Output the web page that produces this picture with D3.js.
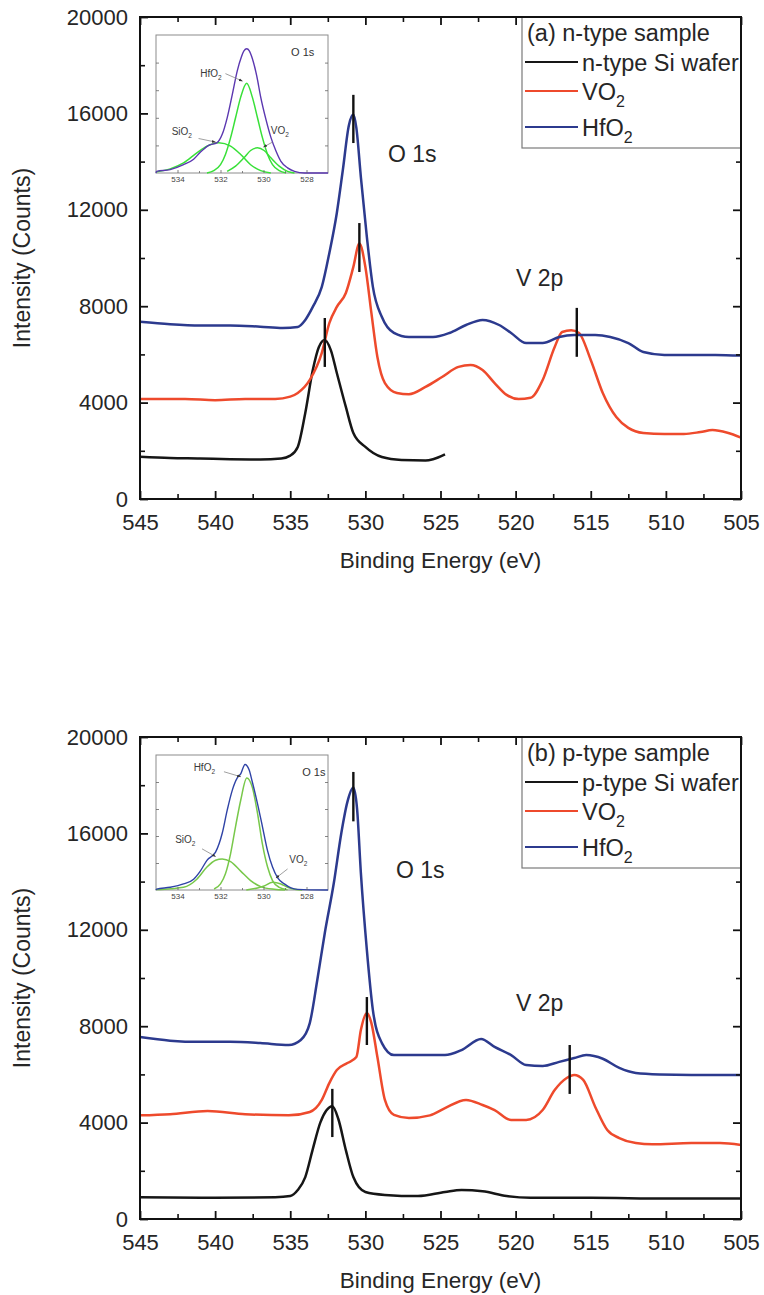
<!DOCTYPE html>
<html>
<head>
<meta charset="utf-8">
<script src="https://cdnjs.cloudflare.com/ajax/libs/d3/7.8.5/d3.min.js"></script>
<style>
  html, body { margin: 0; padding: 0; background: #ffffff; }
  svg { display: block; font-family: "Liberation Sans", Arial, sans-serif; }
</style>
</head>
<body>
<svg id="fig" width="764" height="1295"></svg>
<script>
// ---------- axis ticks ----------
const energyTicks = [545, 540, 535, 530, 525, 520, 515, 510, 505];
const energyMinor = [542.5, 537.5, 532.5, 527.5, 522.5, 517.5, 512.5, 507.5];
const countTicks = [0, 4000, 8000, 12000, 16000, 20000];
const countMinor = [2000, 6000, 10000, 14000, 18000];
const insetTicks = [534, 532, 530, 528];
const insetMinor = [533, 531, 529];
const insetLevelTicks = [0.2, 0.4, 0.6, 0.8];

// ---------- legend / labels ----------
const panelTitles = ["(a) n-type sample", "(b) p-type sample"];
const waferNames = ["n-type Si wafer", "p-type Si wafer"];
const filmNames = ["VO_2", "HfO_2"];
const peakLabels = ["O 1s", "V 2p"];
const axisTitles = ["Binding Energy (eV)", "Intensity (Counts)"];

// ---------- (a) n-type sample: [binding energy eV, counts] ----------
const nWafer = [
  [545, 1750], [543, 1700], [541, 1680], [539, 1650], [537, 1640], [535.6, 1680],
  [535, 1800], [534.5, 2160], [534.0, 3570], [533.5, 5350], [533.1, 6300],
  [532.7, 6600], [532.3, 6180], [531.9, 5230], [531.3, 3820], [530.8, 2740],
  [530.0, 2160], [528.9, 1740], [527.6, 1620], [526.0, 1600], [525.5, 1650], [524.7, 1850]
];
const nVO2 = [
  [545, 4150], [542, 4150], [540, 4100], [538, 4150], [536, 4150], [535, 4250],
  [534.5, 4400], [533.7, 4940], [532.9, 6060], [532.4, 7300], [531.9, 7970],
  [531.3, 8550], [530.8, 9630], [530.4, 10600], [530.0, 9630], [529.6, 7720],
  [529.2, 5890], [528.7, 4810], [527.9, 4400], [527.1, 4350], [526.0, 4650],
  [524.9, 5060], [523.8, 5480], [523.0, 5560], [522.2, 5350], [521.4, 4810],
  [520.6, 4320], [519.8, 4150], [519.0, 4200], [518.2, 4940], [517.4, 6310],
  [516.9, 6930], [516.3, 7000], [515.8, 6900], [515.0, 5770], [514.2, 4400],
  [513.3, 3400], [512.5, 2950], [511.5, 2740], [510.1, 2700], [508.8, 2700],
  [507.7, 2780], [506.9, 2860], [505.9, 2750], [505, 2550]
];
const nHfO2 = [
  [545, 7350], [543, 7250], [541, 7200], [539, 7200], [537, 7150], [535.5, 7100],
  [534.5, 7140], [534.0, 7430], [533.5, 7970], [532.9, 8800], [532.4, 10200],
  [531.9, 11870], [531.5, 13650], [531.1, 15500], [530.8, 15950], [530.6, 15400],
  [530.3, 13360], [529.9, 10870], [529.5, 8800], [528.9, 7550], [528.1, 6890],
  [527.1, 6720], [525.5, 6720], [524.4, 6890], [523.3, 7220], [522.2, 7430],
  [521.1, 7220], [520.3, 6890], [519.3, 6470], [518.2, 6470], [517.1, 6720],
  [516.1, 6800], [514.7, 6800], [513.7, 6720], [512.5, 6470], [511.5, 6100],
  [510.1, 5980], [508.3, 5980], [506.7, 5980], [505, 5950]
];
// peak position bars: [energy, lower counts, upper counts]
const nPeakMarks = [
  [530.8, 14770, 16770], [530.4, 9420, 11450], [532.7, 5480, 7510], [515.93, 5900, 7930]
];

// ---------- (b) p-type sample ----------
const pWafer = [
  [545, 900], [540, 880], [536, 900], [535, 950], [534.5, 1200], [534.0, 1740],
  [533.5, 2900], [533.0, 4000], [532.6, 4500], [532.2, 4680], [531.8, 4150],
  [531.3, 2860], [530.8, 1740], [530.0, 1120], [528.7, 1000], [526.5, 950],
  [524.7, 1120], [523.6, 1200], [522.2, 1150], [520.6, 950], [519.0, 880],
  [515, 880], [510, 850], [505, 850]
];
const pVO2 = [
  [545, 4300], [543, 4350], [540.5, 4480], [538, 4350], [535.1, 4300], [533.7, 4440],
  [532.9, 4940], [532.4, 5640], [531.9, 6180], [531.2, 6470], [530.6, 6720],
  [530.3, 7840], [529.9, 8550], [529.6, 8130], [529.2, 6720], [528.7, 4940],
  [528.1, 4320], [527.1, 4190], [525.7, 4300], [524.7, 4600], [523.3, 4940],
  [522.2, 4730], [521.4, 4520], [520.3, 4110], [519.3, 4110], [518.2, 4520],
  [517.4, 5350], [516.6, 5850], [516.1, 5980], [515.5, 5770], [514.7, 4650],
  [513.9, 3690], [513.1, 3360], [512.0, 3150], [510.9, 3100], [508.3, 3150],
  [506.4, 3150], [505, 3070]
];
const pHfO2 = [
  [545, 7550], [543, 7400], [541, 7350], [539, 7350], [537, 7300], [535.1, 7220],
  [534.3, 7430], [533.7, 8130], [533.2, 9920], [532.7, 11870], [532.1, 13940],
  [531.6, 16020], [531.2, 17300], [530.8, 17900], [530.55, 17000], [530.3, 14360],
  [529.9, 11160], [529.5, 8670], [528.9, 7300], [528.1, 6800], [526.5, 6800],
  [524.7, 6800], [523.6, 7010], [522.3, 7470], [521.4, 7140], [520.3, 6800],
  [519.3, 6390], [518.2, 6350], [517.1, 6520], [516.1, 6680], [515.3, 6800],
  [514.2, 6650], [513.1, 6270], [512.0, 6060], [510.4, 6000], [508.3, 5980],
  [506.7, 5980], [505, 5980]
];
const pPeakMarks = [
  [530.8, 16500, 18550], [529.9, 7220, 9210], [532.2, 3400, 5400], [516.4, 5190, 7220]
];

// ---------- O 1s fits (insets): [energy eV, relative intensity] ----------
const nFitEnvelope = [
  [535, 0.0], [534.97, 0.012], [534.34, 0.024], [533.72, 0.06], [533.25, 0.10],
  [532.94, 0.15], [532.55, 0.20], [532.16, 0.22], [531.92, 0.28], [531.69, 0.40],
  [531.45, 0.57], [531.22, 0.74], [531.03, 0.84], [530.91, 0.885], [530.78, 0.90],
  [530.66, 0.885], [530.52, 0.83], [530.31, 0.70], [530.13, 0.55], [529.89, 0.39],
  [529.66, 0.26], [529.42, 0.16], [529.19, 0.085], [528.88, 0.037], [528.56, 0.012],
  [528.09, 0.0], [527, 0.0]
];
const nFitHfO2 = [
  [532.63, 0.0], [532.31, 0.017], [532.0, 0.06], [531.77, 0.134], [531.53, 0.256],
  [531.3, 0.40], [531.06, 0.55], [530.78, 0.65], [530.52, 0.55], [530.28, 0.40],
  [530.05, 0.256], [529.81, 0.134], [529.58, 0.06], [529.27, 0.017], [528.95, 0.0]
];
const nFitSiO2 = [
  [535, 0.008], [534.34, 0.03], [533.72, 0.073], [533.1, 0.146], [532.63, 0.195],
  [532.08, 0.22], [531.53, 0.195], [531.06, 0.134], [530.6, 0.06], [530.13, 0.017],
  [529.66, 0.0]
];
const nFitVO2 = [
  [531.69, 0.012], [531.3, 0.05], [530.91, 0.11], [530.6, 0.163], [530.28, 0.183],
  [529.97, 0.163], [529.66, 0.11], [529.27, 0.05], [528.88, 0.012], [528.56, 0.0]
];

const pFitEnvelope = [
  [535, 0.0], [534.97, 0.007], [534.34, 0.02], [533.72, 0.045], [533.25, 0.08],
  [532.94, 0.14], [532.63, 0.22], [532.23, 0.28], [531.92, 0.42], [531.69, 0.59],
  [531.45, 0.74], [531.22, 0.83], [531.06, 0.86], [530.86, 0.93], [530.67, 0.89],
  [530.52, 0.80], [530.28, 0.64], [530.05, 0.47], [529.81, 0.29], [529.58, 0.17],
  [529.34, 0.09], [529.03, 0.045], [528.72, 0.015], [528.41, 0.005], [527, 0.0]
];
const pFitHfO2 = [
  [532.3, 0.007], [532.0, 0.045], [531.77, 0.12], [531.53, 0.27], [531.3, 0.47],
  [531.06, 0.665], [530.78, 0.83], [530.52, 0.76], [530.28, 0.57], [530.05, 0.34],
  [529.81, 0.17], [529.58, 0.07], [529.27, 0.02], [528.88, 0.002]
];
const pFitSiO2 = [
  [535, 0.003], [534.3, 0.01], [533.72, 0.02], [533.1, 0.08], [532.63, 0.17],
  [532.23, 0.22], [531.92, 0.23], [531.53, 0.21], [531.06, 0.14], [530.6, 0.07],
  [530.13, 0.025], [529.5, 0.005], [529.0, 0.0]
];
const pFitVO2 = [
  [530.8, 0.0], [530.28, 0.015], [529.97, 0.03], [529.58, 0.057], [529.19, 0.045],
  [528.88, 0.02], [528.56, 0.005], [528.2, 0.0]
];

// component name labels with pointer arrows: [name, text energy, text level, from energy, from level, to energy, to level]
const nFitNotes = [
  ["HfO_2", 532.94, 0.695, 531.77, 0.72, 530.98, 0.666],
  ["SiO_2", 534.27, 0.273, 533.02, 0.25, 532.23, 0.224],
  ["VO_2", 529.66, 0.28, 529.58, 0.224, 530.0, 0.188]
];
const pFitNotes = [
  ["HfO_2", 533.25, 0.883, 531.84, 0.876, 531.06, 0.839],
  ["SiO_2", 534.11, 0.347, 532.86, 0.305, 532.23, 0.248],
  ["VO_2", 528.8, 0.199, 528.88, 0.156, 529.42, 0.089]
];

// ---------- drawing ----------
const svg = d3.select("#fig");
const TEXT = "#262626";

svg.append("defs").append("marker")
  .attr("id", "tip").attr("viewBox", "0 0 10 10")
  .attr("refX", 9).attr("refY", 5)
  .attr("markerWidth", 5).attr("markerHeight", 5)
  .attr("orient", "auto")
  .append("path").attr("d", "M0,1.5 L10,5 L0,8.5 Z").attr("fill", "#333");

function richText(sel, str, subSize, subDy) {
  const parts = str.split("_");
  sel.append("tspan").text(parts[0]);
  if (parts.length > 1) {
    sel.append("tspan").attr("font-size", subSize).attr("dy", subDy).text(parts[1]);
  }
}

function styleAxis(sel, width) {
  sel.select(".domain").remove();
  sel.selectAll(".tick line").attr("stroke", "#111").attr("stroke-width", width);
  sel.selectAll(".tick text").attr("fill", TEXT).attr("font-size", 22)
    .attr("font-family", "'Liberation Sans', Arial, sans-serif");
}

function drawPanel(cfg) {
  const g = svg.append("g").attr("transform", `translate(0,${cfg.dy})`);
  const L = 140, R = 741, T = 17, B = 499;
  const x = d3.scaleLinear().domain([545, 505]).range([L, R]);
  const y = d3.scaleLinear().domain([0, 20000]).range([B, T]);

  // spectra
  const line = d3.line().x(d => x(d[0])).y(d => y(d[1])).curve(d3.curveMonotoneX);
  const series = [
    { data: cfg.wafer, color: "#161616" },
    { data: cfg.vo2, color: "#ee4a2c" },
    { data: cfg.hfo2, color: "#2c3a8e" }
  ];
  g.selectAll("path.spec").data(series).join("path")
    .attr("class", "spec")
    .attr("d", d => line(d.data))
    .attr("fill", "none")
    .attr("stroke", d => d.color)
    .attr("stroke-width", 2.5)
    .attr("stroke-linejoin", "round");

  // peak position bars
  g.selectAll("line.mark").data(cfg.marks).join("line")
    .attr("class", "mark")
    .attr("x1", d => x(d[0])).attr("x2", d => x(d[0]))
    .attr("y1", d => y(d[1])).attr("y2", d => y(d[2]))
    .attr("stroke", "#111").attr("stroke-width", 2.4);

  // peak labels
  g.append("text").attr("x", cfg.o1s[0]).attr("y", cfg.o1s[1])
    .attr("font-size", 23).attr("fill", TEXT).text(peakLabels[0]);
  g.append("text").attr("x", cfg.v2p[0]).attr("y", cfg.v2p[1])
    .attr("font-size", 23).attr("fill", TEXT).text(peakLabels[1]);

  // axes: ticks point inward on all four sides
  g.append("g").attr("transform", `translate(0,${B})`)
    .call(d3.axisBottom(x).tickValues(energyTicks).tickSize(-8).tickPadding(15).tickFormat(d3.format("d")))
    .call(s => styleAxis(s, 1.8));
  g.append("g").attr("transform", `translate(0,${B})`)
    .call(d3.axisBottom(x).tickValues(energyMinor).tickSize(-5).tickFormat(""))
    .call(s => styleAxis(s, 1.6));
  g.append("g").attr("transform", `translate(0,${T})`)
    .call(d3.axisTop(x).tickValues(energyTicks).tickSize(-8).tickFormat(""))
    .call(s => styleAxis(s, 1.8));
  g.append("g").attr("transform", `translate(0,${T})`)
    .call(d3.axisTop(x).tickValues(energyMinor).tickSize(-5).tickFormat(""))
    .call(s => styleAxis(s, 1.6));
  g.append("g").attr("transform", `translate(${L},0)`)
    .call(d3.axisLeft(y).tickValues(countTicks).tickSize(-8).tickPadding(12).tickFormat(d3.format("d")))
    .call(s => styleAxis(s, 1.8));
  g.append("g").attr("transform", `translate(${L},0)`)
    .call(d3.axisLeft(y).tickValues(countMinor).tickSize(-5).tickFormat(""))
    .call(s => styleAxis(s, 1.6));
  g.append("g").attr("transform", `translate(${R},0)`)
    .call(d3.axisRight(y).tickValues(countTicks).tickSize(-8).tickFormat(""))
    .call(s => styleAxis(s, 1.8));
  g.append("g").attr("transform", `translate(${R},0)`)
    .call(d3.axisRight(y).tickValues(countMinor).tickSize(-5).tickFormat(""))
    .call(s => styleAxis(s, 1.6));

  // axis titles
  g.append("text").attr("x", (L + R) / 2).attr("y", 568)
    .attr("text-anchor", "middle").attr("font-size", 22.5).attr("fill", TEXT)
    .text(axisTitles[0]);
  g.append("text").attr("transform", `translate(30,${(T + B) / 2}) rotate(-90)`)
    .attr("text-anchor", "middle").attr("font-size", 23).attr("fill", TEXT)
    .text(axisTitles[1]);

  // legend
  const lg = g.append("g");
  lg.append("rect").attr("x", 522).attr("y", T).attr("width", R - 522).attr("height", 131)
    .attr("fill", "#fff").attr("stroke", "#7a7a7a").attr("stroke-width", 1.2);
  lg.append("text").attr("x", 527).attr("y", 41).attr("font-size", 23.5).attr("fill", TEXT)
    .text(cfg.title);
  const rows = [
    { name: cfg.waferName, color: "#161616", ly: 62 },
    { name: filmNames[0], color: "#ee4a2c", ly: 91 },
    { name: filmNames[1], color: "#2c3a8e", ly: 127 }
  ];
  rows.forEach(r => {
    lg.append("line").attr("x1", 525).attr("x2", 578).attr("y1", r.ly).attr("y2", r.ly)
      .attr("stroke", r.color).attr("stroke-width", 2.2);
    const t = lg.append("text").attr("x", 582).attr("y", r.ly + 8.5)
      .attr("font-size", 23.5).attr("fill", TEXT);
    richText(t, r.name, 16, 7.5);
  });

  // frame
  g.append("rect").attr("x", L).attr("y", T).attr("width", R - L).attr("height", B - T)
    .attr("fill", "none").attr("stroke", "#111").attr("stroke-width", 2);

  drawInset(g, cfg.inset);
}

function drawInset(g, ic) {
  const L = 156, R = 328, T = 35, B = ic.bottom;
  const x = d3.scaleLinear().domain([535, 527]).range([L, R]);
  const y = d3.scaleLinear().domain([0, 1]).range([B, T]);
  const ig = g.append("g");
  ig.append("rect").attr("x", L).attr("y", T).attr("width", R - L).attr("height", B - T)
    .attr("fill", "#fff").attr("stroke", "#8c8c8c").attr("stroke-width", 1);

  const line = d3.line().x(d => x(d[0])).y(d => y(d[1])).curve(d3.curveMonotoneX);
  const curves = [
    { data: ic.siO2, color: ic.green, w: 1.5 },
    { data: ic.vO2, color: ic.green, w: 1.5 },
    { data: ic.hfO2, color: ic.green, w: 1.5 },
    { data: ic.envelope, color: ic.envColor, w: 1.4 }
  ];
  ig.selectAll("path.fit").data(curves).join("path")
    .attr("class", "fit")
    .attr("d", d => line(d.data))
    .attr("fill", "none").attr("stroke", d => d.color).attr("stroke-width", d => d.w);

  // small inward ticks
  const tickStyle = s => {
    s.select(".domain").remove();
    s.selectAll(".tick line").attr("stroke", "#666").attr("stroke-width", 0.8);
    s.selectAll(".tick text").attr("fill", "#444").attr("font-size", 8)
      .attr("font-family", "'Liberation Sans', Arial, sans-serif");
  };
  ig.append("g").attr("transform", `translate(0,${B})`)
    .call(d3.axisBottom(x).tickValues(insetTicks).tickSize(-3).tickPadding(3).tickFormat(d3.format("d")))
    .call(tickStyle);
  ig.append("g").attr("transform", `translate(0,${B})`)
    .call(d3.axisBottom(x).tickValues(insetMinor).tickSize(-2).tickFormat(""))
    .call(tickStyle);
  ig.append("g").attr("transform", `translate(${L},0)`)
    .call(d3.axisLeft(y).tickValues(insetLevelTicks).tickSize(-3).tickFormat(""))
    .call(tickStyle);
  ig.append("g").attr("transform", `translate(${R},0)`)
    .call(d3.axisRight(y).tickValues(insetLevelTicks).tickSize(-3).tickFormat(""))
    .call(tickStyle);

  ig.append("text").attr("x", x(ic.titleAt[0])).attr("y", y(ic.titleAt[1]))
    .attr("font-size", 11).attr("fill", "#333").text(peakLabels[0]);

  ic.notes.forEach(n => {
    const t = ig.append("text").attr("x", x(n[1])).attr("y", y(n[2]))
      .attr("font-size", 10).attr("fill", "#3a3a3a");
    richText(t, n[0], 6.5, 3);
    ig.append("line")
      .attr("x1", x(n[3])).attr("y1", y(n[4]))
      .attr("x2", x(n[5])).attr("y2", y(n[6]))
      .attr("stroke", "#888").attr("stroke-width", 0.8)
      .attr("marker-end", "url(#tip)");
  });
}

drawPanel({
  dy: 0,
  title: panelTitles[0],
  waferName: waferNames[0],
  wafer: nWafer, vo2: nVO2, hfo2: nHfO2, marks: nPeakMarks,
  o1s: [388, 162], v2p: [516, 286],
  inset: {
    bottom: 173, titleAt: [528.72, 0.846],
    envelope: nFitEnvelope, hfO2: nFitHfO2, siO2: nFitSiO2, vO2: nFitVO2,
    envColor: "#5b37b0", green: "#38e038", notes: nFitNotes
  }
});

drawPanel({
  dy: 720,
  title: panelTitles[1],
  waferName: waferNames[1],
  wafer: pWafer, vo2: pVO2, hfo2: pHfO2, marks: pPeakMarks,
  o1s: [396, 158], v2p: [516, 291],
  inset: {
    bottom: 170, titleAt: [528.2, 0.846],
    envelope: pFitEnvelope, hfO2: pFitHfO2, siO2: pFitSiO2, vO2: pFitVO2,
    envColor: "#2f43a6", green: "#78c84a", notes: pFitNotes
  }
});
</script>
</body>
</html>
